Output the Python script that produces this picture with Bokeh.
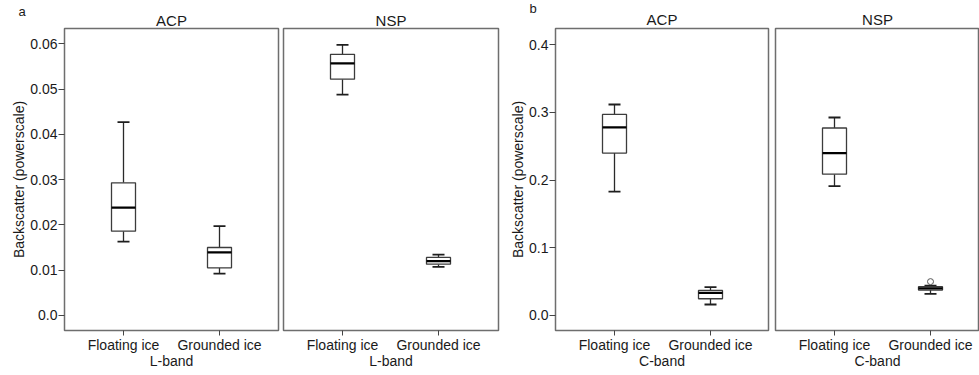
from bokeh.plotting import figure
from bokeh.models import Range1d, FixedTicker, ColumnDataSource, Title
from bokeh.layouts import row
from bokeh.embed import file_html
from bokeh.resources import INLINE

# ---------------- data ----------------
categories = ["Floating ice", "Grounded ice"]
xpos = [1, 2]

# panel a (L-band)
a_acp_lower = [0.0163, 0.0092]
a_acp_q1 = [0.0186, 0.0105]
a_acp_median = [0.0238, 0.0139]
a_acp_q3 = [0.0293, 0.0150]
a_acp_upper = [0.0427, 0.0197]

a_nsp_lower = [0.0488, 0.0107]
a_nsp_q1 = [0.0522, 0.0113]
a_nsp_median = [0.0557, 0.0120]
a_nsp_q3 = [0.0577, 0.0128]
a_nsp_upper = [0.0598, 0.0134]

# panel b (C-band)
b_acp_lower = [0.183, 0.0162]
b_acp_q1 = [0.240, 0.0247]
b_acp_median = [0.278, 0.0335]
b_acp_q3 = [0.297, 0.0370]
b_acp_upper = [0.3117, 0.0418]

b_nsp_lower = [0.191, 0.032]
b_nsp_q1 = [0.2087, 0.0375]
b_nsp_median = [0.240, 0.0400]
b_nsp_q3 = [0.277, 0.0425]
b_nsp_upper = [0.2925, 0.0440]
b_nsp_outlier_x = [2]
b_nsp_outlier_y = [0.050]

a_yticks = [0.0, 0.01, 0.02, 0.03, 0.04, 0.05, 0.06]
a_ytick_labels = ["0.0", "0.01", "0.02", "0.03", "0.04", "0.05", "0.06"]
b_yticks = [0.0, 0.1, 0.2, 0.3, 0.4]
b_ytick_labels = ["0.0", "0.1", "0.2", "0.3", "0.4"]

FONT = "Liberation Sans"
TXT = "#1a1a1a"
BOXW = 0.25
CAPW = 0.125
PX_PER_UNIT = 96.0
X0_OFFSET = 59.0
H = 375


def make_fig(title, band, lower, q1, med, q3, upper, width, bl, br, bt, bb,
             ylo, yhi, yticks=None, ylabels=None, outlier=None,
             letter=None, letter_offset=0, title_standoff=-1):
    fw = width - bl - br
    xs = 1 - X0_OFFSET / PX_PER_UNIT
    xe = xs + fw / PX_PER_UNIT
    p = figure(width=width, height=H, output_backend="svg", toolbar_location=None,
               x_range=Range1d(xs, xe), y_range=Range1d(ylo, yhi),
               y_axis_location="left" if yticks is not None else None,
               min_border_left=bl, min_border_right=br,
               min_border_top=bt, min_border_bottom=bb)
    if letter is not None:
        p.title = Title(text=letter, align="left", offset=letter_offset, standoff=-17,
                        text_font=FONT, text_font_size="13px", text_font_style="normal",
                        text_color=TXT)
    else:
        p.title = None
    p.add_layout(Title(text=title, align="center", text_font=FONT, text_font_size="15px",
                       text_font_style="normal", text_color=TXT, standoff=title_standoff,
                       offset=0),
                 "above")
    p.grid.visible = False
    p.outline_line_color = "#6e6e6e"
    p.outline_line_width = 1.5
    p.background_fill_color = "white"
    p.border_fill_color = "white"

    # x axis
    xa = p.xaxis[0]
    xa.ticker = FixedTicker(ticks=xpos)
    xa.major_label_overrides = {x: c for x, c in zip(xpos, categories)}
    xa.axis_label = band
    xa.axis_label_text_font = FONT
    xa.axis_label_text_font_size = "14px"
    xa.axis_label_text_font_style = "normal"
    xa.axis_label_text_color = TXT
    xa.axis_label_standoff = -3
    xa.major_label_text_font = FONT
    xa.major_label_text_font_size = "14px"
    xa.major_label_text_color = TXT
    xa.major_label_standoff = 1
    xa.axis_line_color = None
    xa.major_tick_in = 0
    xa.major_tick_out = 5
    xa.major_tick_line_color = "#444444"
    xa.minor_tick_line_color = None

    if yticks is not None:
        ya = p.yaxis[0]
        ya.ticker = FixedTicker(ticks=yticks)
        ya.major_label_overrides = {t: l for t, l in zip(yticks, ylabels)}
        ya.axis_label = "Backscatter (powerscale)"
        ya.axis_label_text_font = FONT
        ya.axis_label_text_font_size = "14px"
        ya.axis_label_text_font_style = "normal"
        ya.axis_label_text_color = TXT
        ya.axis_label_standoff = 0
        ya.major_label_text_font = FONT
        ya.major_label_text_font_size = "14px"
        ya.major_label_text_color = TXT
        ya.major_label_standoff = 1
        ya.axis_line_color = None
        ya.major_tick_in = 0
        ya.major_tick_out = 6
        ya.major_tick_line_color = "#444444"
        ya.minor_tick_line_color = None

    src = ColumnDataSource(dict(x=xpos, lower=lower, q1=q1, med=med, q3=q3, upper=upper,
                                cl=[x - CAPW / 2 for x in xpos], cr=[x + CAPW / 2 for x in xpos],
                                bl=[x - BOXW / 2 for x in xpos], br=[x + BOXW / 2 for x in xpos]))
    p.segment(x0="x", y0="q3", x1="x", y1="upper", source=src, line_color="#2a2a2a", line_width=1.3)
    p.segment(x0="x", y0="q1", x1="x", y1="lower", source=src, line_color="#2a2a2a", line_width=1.3)
    p.segment(x0="cl", y0="upper", x1="cr", y1="upper", source=src, line_color="#1e1e1e", line_width=1.8)
    p.segment(x0="cl", y0="lower", x1="cr", y1="lower", source=src, line_color="#1e1e1e", line_width=1.8)
    p.vbar(x="x", width=BOXW, top="q3", bottom="q1", source=src,
           fill_color="white", line_color="#3c3c3c", line_width=1.3)
    p.segment(x0="bl", y0="med", x1="br", y1="med", source=src, line_color="#000000", line_width=2.2)
    if outlier is not None:
        p.scatter(x=outlier[0], y=outlier[1], size=6, marker="circle",
                  fill_color="white", line_color="#555555", line_width=1)
    return p


p1 = make_fig("ACP", "L-band", a_acp_lower, a_acp_q1, a_acp_median, a_acp_q3, a_acp_upper,
              280, 64, 2, 27, 43, -0.00335, 0.0634, a_yticks, a_ytick_labels,
              letter="a", letter_offset=-46)
p2 = make_fig("NSP", "L-band", a_nsp_lower, a_nsp_q1, a_nsp_median, a_nsp_q3, a_nsp_upper,
              220, 3, 2, 27, 43, -0.00335, 0.0634)
p3 = make_fig("ACP", "C-band", b_acp_lower, b_acp_q1, b_acp_median, b_acp_q3, b_acp_upper,
              270, 55, 2, 28, 45, -0.0222, 0.424, b_yticks, b_ytick_labels,
              letter="b", letter_offset=-26, title_standoff=2)
p4 = make_fig("NSP", "C-band", b_nsp_lower, b_nsp_q1, b_nsp_median, b_nsp_q3, b_nsp_upper,
              209, 5, 0, 28, 45, -0.0222, 0.424, outlier=(b_nsp_outlier_x, b_nsp_outlier_y),
              title_standoff=2)

layout = row(p1, p2, p3, p4, spacing=0)
open("out.html", "w").write(file_html(layout, INLINE))
